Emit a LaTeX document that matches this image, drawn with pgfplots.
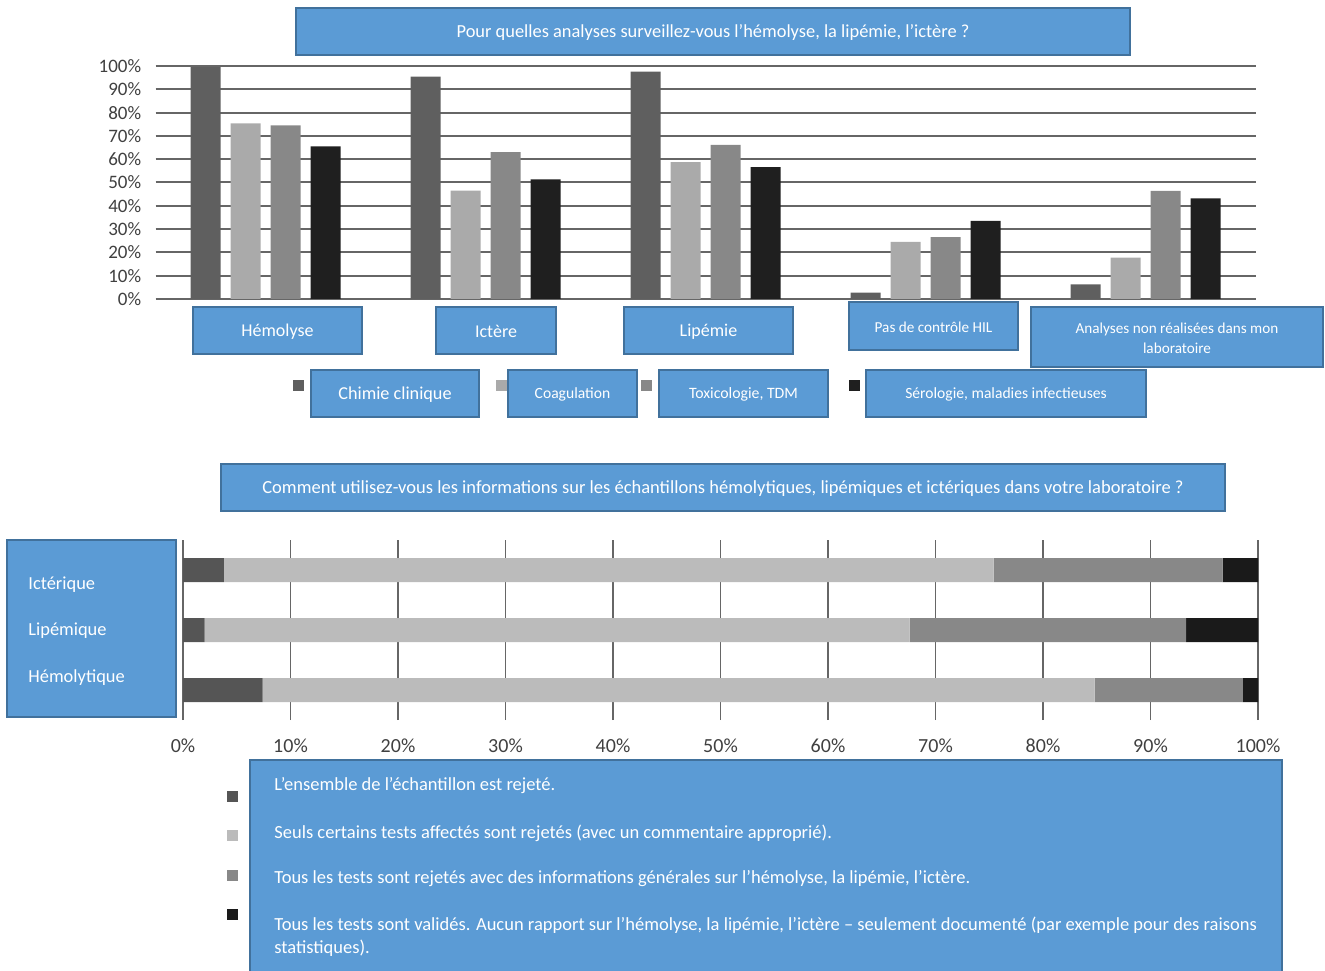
\documentclass[border=0pt]{standalone}
\usepackage{fontspec}
\setmainfont{Carlito}
\usepackage{pgfplots}
\pgfplotsset{compat=1.18}
\definecolor{c1}{HTML}{5F5F5F}
\definecolor{c2}{HTML}{AAAAAA}
\definecolor{c3}{HTML}{888888}
\definecolor{c4}{HTML}{1F1F1F}
\definecolor{d1}{HTML}{555555}
\definecolor{d2}{HTML}{BBBBBB}
\definecolor{d3}{HTML}{888888}
\definecolor{d4}{HTML}{1A1A1A}
\definecolor{boxfill}{HTML}{5B9BD5}
\definecolor{boxdraw}{HTML}{41719C}
\definecolor{gridc}{HTML}{666666}
\definecolor{tickc}{HTML}{404040}
\newcommand\bluebox[6]{%
 \draw[fill=boxfill,draw=boxdraw,line width=0.8pt] (#1,970-#2) rectangle (#3,970-#4);
 \node[text=white,align=center,inner sep=0pt,yshift=-0.6pt,font=\fontsize{#5}{10}\selectfont] at ({(#1+#3)/2},{970-(#2+#4)/2}) {#6};}
\pgfplotstableread{
x a b c d
0 99.6 75.4 74.5 65.5
1 95.4 46.5 63.0 51.3
2 97.6 58.7 66.1 56.6
3 2.7 24.5 26.6 33.5
4 6.3 17.8 46.4 43.2
}\topdata
\pgfplotstableread{
y a b c d
0 7.4 77.4 13.8 1.4
1 2.0 65.6 25.7 6.7
2 3.8 71.6 21.3 3.3
}\botdata
\begin{document}
\begin{tikzpicture}[x=0.5pt,y=0.5pt]
\useasboundingbox (0,0) rectangle (1325,970);
% top chart
\begin{axis}[
 at={(77.75pt,335.5pt)}, anchor=south west, scale only axis,
 width=550pt, height=116.5pt,
 ybar=5pt, bar width=15pt,
 xmin=-0.5, xmax=4.5, ymin=0, ymax=100,
 ytick={0,10,...,100},
 yticklabel={\pgfmathparse{int(\tick)}\pgfmathresult\%},
 yticklabel style={font=\fontsize{9.5}{10}\selectfont, text=tickc, inner sep=0pt, xshift=-7pt},
 xtick=\empty,
 axis line style={draw=none}, major tick length=0pt,
 ymajorgrids, grid style={line width=1pt, color=gridc},
]
\addplot[fill=c1, draw=none] table[x=x,y=a] {\topdata};
\addplot[fill=c2, draw=none] table[x=x,y=b] {\topdata};
\addplot[fill=c3, draw=none] table[x=x,y=c] {\topdata};
\addplot[fill=c4, draw=none] table[x=x,y=d] {\topdata};
\end{axis}
% bottom chart
\begin{axis}[
 at={(91.5pt,125pt)}, anchor=south west, scale only axis,
 width=537.5pt, height=90pt,
 xbar stacked, bar width=12pt,
 xmin=0, xmax=100, ymin=-0.5, ymax=2.5,
 xtick={0,10,...,100},
 xticklabel={\pgfmathparse{int(\tick)}\pgfmathresult\%},
 xticklabel style={font=\fontsize{10}{10}\selectfont, text=tickc, inner sep=0pt, yshift=-9pt},
 ytick=\empty,
 axis line style={draw=none}, major tick length=0pt,
 xmajorgrids, grid style={line width=0.7pt, color=gridc},
]
\addplot[fill=d1, draw=none] table[x=a,y=y] {\botdata};
\addplot[fill=d2, draw=none] table[x=b,y=y] {\botdata};
\addplot[fill=d3, draw=none] table[x=c,y=y] {\botdata};
\addplot[fill=d4, draw=none] table[x=d,y=y] {\botdata};
\end{axis}
% top boxes
\bluebox{296}{8}{1130}{55}{9.2}{Pour quelles analyses surveillez-vous l'hémolyse, la lipémie, l'ictère ?}
\bluebox{193}{307}{362}{354}{9}{Hémolyse}
\bluebox{436}{307}{556}{354}{9}{Ictère}
\bluebox{624}{307}{793}{354}{9}{Lipémie}
\bluebox{849}{302}{1018}{350}{7.6}{Pas de contrôle HIL}
\bluebox{1031}{307}{1323}{367}{7.6}{Analyses non réalisées dans mon\\laboratoire}
\bluebox{311}{370}{479}{417}{9.1}{Chimie clinique}
\bluebox{508}{370}{637}{417}{7.8}{Coagulation}
\bluebox{659}{370}{828}{417}{7.9}{Toxicologie, TDM}
\bluebox{866}{370}{1146}{417}{7.8}{Sérologie, maladies infectieuses}
\fill[c1] (293,970-380) rectangle (304,970-391);
\fill[c2] (496,970-380) rectangle (507,970-391);
\fill[c3] (641,970-380) rectangle (652,970-391);
\fill[c4] (849,970-380) rectangle (860,970-391);
% bottom boxes
\bluebox{221}{464}{1225}{511}{9.25}{Comment utilisez-vous les informations sur les échantillons hémolytiques, lipémiques et ictériques dans votre laboratoire ?}
\draw[fill=boxfill,draw=boxdraw,line width=0.8pt] (7,970-540) rectangle (176,970-717);
\node[text=white,anchor=west,inner sep=0pt,font=\fontsize{9.2}{10}\selectfont] at (28,970-585) {Ictérique};
\node[text=white,anchor=west,inner sep=0pt,font=\fontsize{9.2}{10}\selectfont] at (28,970-631) {Lipémique};
\node[text=white,anchor=west,inner sep=0pt,font=\fontsize{9.2}{10}\selectfont] at (28,970-678) {Hémolytique};
\draw[fill=boxfill,draw=boxdraw,line width=0.8pt] (250,970-760) rectangle (1282,-5);
\node[text=white,anchor=west,inner sep=0pt,font=\fontsize{9.25}{10}\selectfont] at (274,970-786) {L'ensemble de l'échantillon est rejeté.};
\node[text=white,anchor=west,inner sep=0pt,font=\fontsize{9.25}{10}\selectfont] at (274,970-833) {Seuls certains tests affectés sont rejetés (avec un commentaire approprié).};
\node[text=white,anchor=west,inner sep=0pt,font=\fontsize{9.25}{10}\selectfont] at (274,970-879) {Tous les tests sont rejetés avec des informations générales sur l'hémolyse, la lipémie, l'ictère.};
\node[text=white,anchor=west,inner sep=0pt,font=\fontsize{9.25}{10}\selectfont] at (274,970-925) {Tous les tests sont validés. Aucun rapport sur l'hémolyse, la lipémie, l'ictère – seulement documenté (par exemple pour des raisons};
\node[text=white,anchor=west,inner sep=0pt,font=\fontsize{9.25}{10}\selectfont] at (274,970-948) {statistiques).};
\fill[d1] (227,970-791) rectangle (238,970-802);
\fill[d2] (227,970-830) rectangle (238,970-841);
\fill[d3] (227,970-870) rectangle (238,970-881);
\fill[d4] (227,970-909) rectangle (238,970-920);
\end{tikzpicture}
\end{document}
